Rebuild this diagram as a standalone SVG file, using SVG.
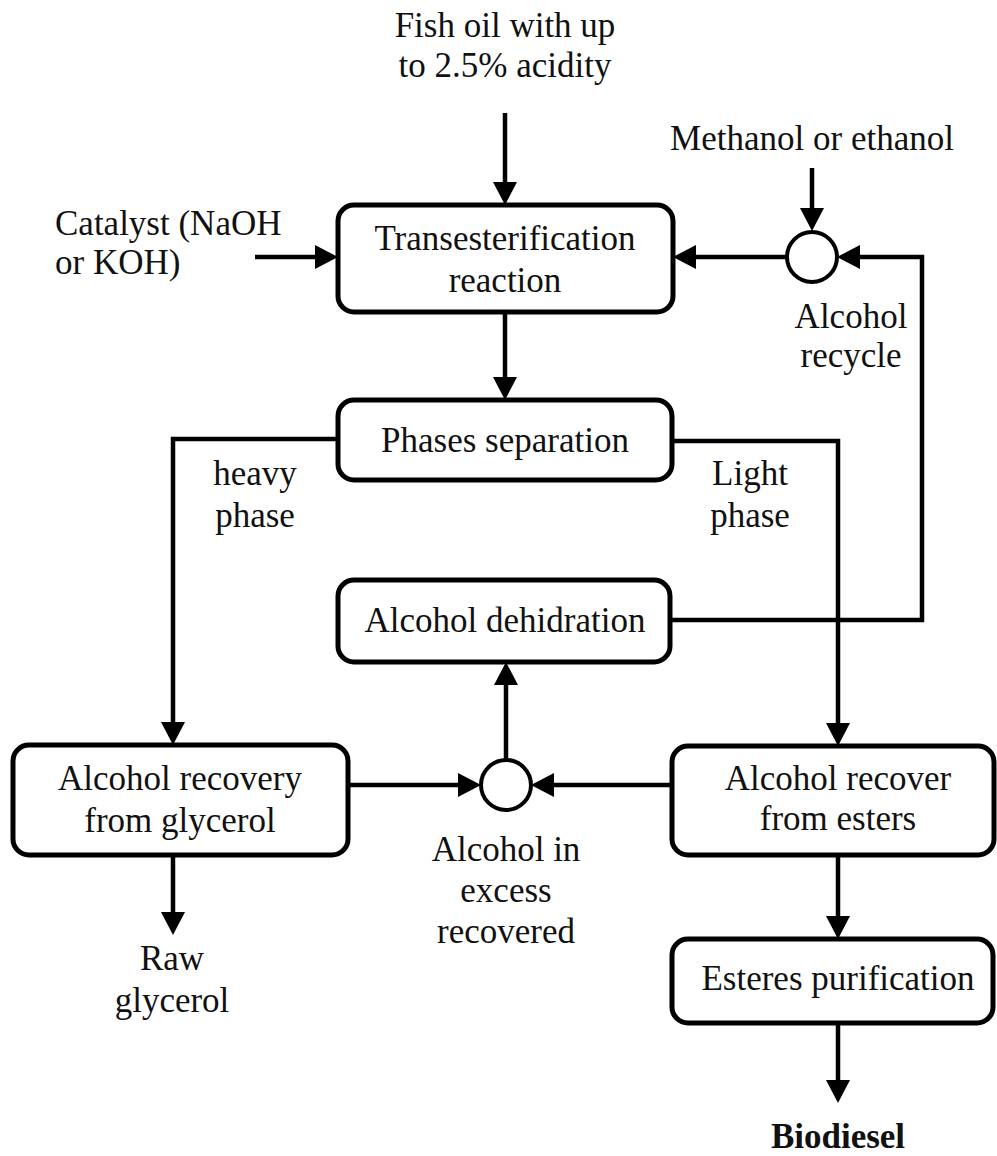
<svg xmlns="http://www.w3.org/2000/svg" width="997" height="1156" viewBox="0 0 997 1156">
<style>
.box{fill:#fff;stroke:#000;stroke-width:5}
.circ{fill:#fff;stroke:#000;stroke-width:4}
.arr{fill:none;stroke:#000;stroke-width:4.5;marker-end:url(#ah)}
text{font-family:"Liberation Serif","Times New Roman",serif;font-size:35px;fill:#111;text-anchor:middle}
.lt{text-anchor:start}
.b{font-weight:bold}
</style>
<defs>
<marker id="ah" markerUnits="userSpaceOnUse" markerWidth="24" markerHeight="26" refX="17" refY="12" orient="auto" viewBox="0 0 24 24">
<path d="M0,0 L23,12 L0,24 Z" fill="#000"/>
</marker>
</defs>
<rect width="997" height="1156" fill="#fff"/>
<g id="connectors">
<path class="arr" d="M505,113 V199"/>
<path class="arr" d="M255,257 H332"/>
<path class="arr" d="M812,168 V225"/>
<path class="arr" d="M787,257 H679"/>
<path class="arr" d="M670,620 H922 V257 H843"/>
<path class="arr" d="M505,312 V394"/>
<path class="arr" d="M338,439 H173 V739"/>
<path class="arr" d="M672,441 H838 V740"/>
<path class="arr" d="M506,759 V668"/>
<path class="arr" d="M348,785 H475"/>
<path class="arr" d="M672,785 H537"/>
<path class="arr" d="M838,855 V933"/>
<path class="arr" d="M838,1023 V1097"/>
<path class="arr" d="M173,855 V929"/>
</g>
<g id="fish-oil"><text x="505" y="37">Fish oil with up</text><text x="505" y="77">to 2.5% acidity</text></g>
<g id="catalyst"><text class="lt" x="55" y="235">Catalyst (NaOH</text><text class="lt" x="55" y="274">or KOH)</text></g>
<g id="methanol"><text x="812" y="150">Methanol or ethanol</text></g>
<g id="transesterification"><rect class="box" x="338" y="205" width="335" height="107" rx="16"/><text x="505" y="250">Transesterification</text><text x="505" y="292">reaction</text></g>
<g id="alcohol-recycle"><circle class="circ" cx="812" cy="257" r="25"/><text x="851" y="328">Alcohol</text><text x="851" y="367">recycle</text></g>
<g id="phases-separation"><rect class="box" x="338" y="400" width="334" height="80" rx="16"/><text x="505" y="452">Phases separation</text></g>
<g id="heavy-phase"><text x="255" y="485">heavy</text><text x="255" y="527">phase</text></g>
<g id="light-phase"><text x="750" y="485">Light</text><text x="750" y="527">phase</text></g>
<g id="alcohol-dehidration"><rect class="box" x="338" y="580" width="332" height="82" rx="16"/><text x="505" y="632">Alcohol dehidration</text></g>
<g id="alcohol-recovery-glycerol"><rect class="box" x="13" y="745" width="335" height="110" rx="16"/><text x="180" y="790">Alcohol recovery</text><text x="180" y="832">from glycerol</text></g>
<g id="alcohol-excess"><circle class="circ" cx="506" cy="785" r="25"/><text x="506" y="861">Alcohol in</text><text x="506" y="902">excess</text><text x="506" y="943">recovered</text></g>
<g id="alcohol-recover-esters"><rect class="box" x="672" y="746" width="322" height="109" rx="16"/><text x="838" y="790">Alcohol recover</text><text x="838" y="830">from esters</text></g>
<g id="raw-glycerol"><text x="172" y="970">Raw</text><text x="172" y="1012">glycerol</text></g>
<g id="esteres-purification"><rect class="box" x="672" y="939" width="321" height="84" rx="16"/><text x="838" y="990">Esteres purification</text></g>
<g id="biodiesel"><text class="b" x="838" y="1148">Biodiesel</text></g>
</svg>
